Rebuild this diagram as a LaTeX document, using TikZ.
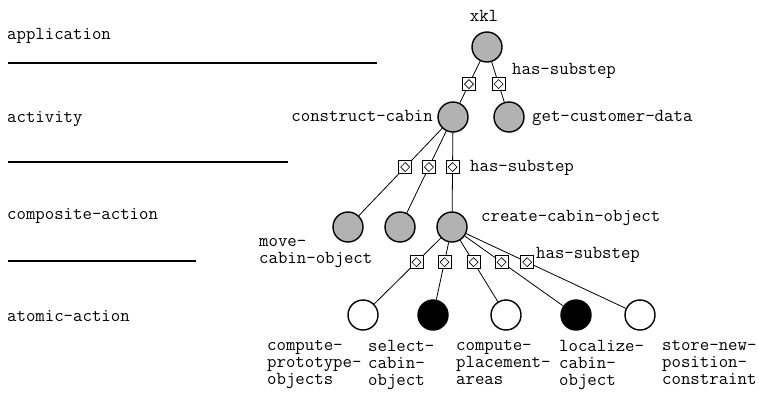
\documentclass[tikz,border=0pt]{standalone}
\usepackage{fontspec}
\usetikzlibrary{calc}

\tikzset{
  task/.style={circle,draw,line width=1.4pt,minimum size=30pt,inner sep=0pt},
  grey task/.style={task,fill=black!30},
  white task/.style={task,fill=white},
  black task/.style={task,fill=black},
  substep/.style={rectangle,draw,fill=white,line width=0.7pt,minimum size=13pt,inner sep=0pt,
    path picture={\draw[line width=0.6pt]
      ([yshift=-2pt]path picture bounding box.north) -- ([xshift=-2pt]path picture bounding box.east) --
      ([yshift=2pt]path picture bounding box.south) -- ([xshift=2pt]path picture bounding box.west) -- cycle;}},
  lbl/.style={font=\ttfamily\fontsize{18.3}{17}\selectfont,inner sep=0pt},
  level/.style={line width=1.5pt},
}

\begin{document}
\begin{tikzpicture}[x=1pt,y=-1pt]
\useasboundingbox (0,0) rectangle (759,392);

% level names and separators
\begin{scope}[every node/.style={lbl,anchor=base west}]
    \node (app) at (7,39) {application};
    \node (act) at (7,122) {activity};
    \node (comp) at (7,219) {composite-action};
    \node (atom) at (7,321) {atomic-action};
\end{scope}
\draw [level] (8,63) -- (377,63);
\draw [level] (8,162) -- (288,162);
\draw [level] (8,261) -- (196,261);

% the task tree
\node [grey task] (xkl) at (487,47) {};
\node [grey task] (cc) at (453,117) {};
\node [grey task] (gcd) at (509,117) {};
\node [grey task] (mco) at (348,227) {};
\node [grey task] (cmid) at (400,227) {};
\node [grey task] (cco) at (452,227) {};
\node [white task] (cpo) at (363,315) {};
\node [black task] (sco) at (433,315) {};
\node [white task] (cpa) at (506,315) {};
\node [black task] (lco) at (576,315) {};
\node [white task] (snp) at (640,315) {};

\begin{scope}[every edge/.style={draw=black,line width=0.8pt}]
    \path (xkl) edge (cc);
    \path (xkl) edge (gcd);
    \path (cc) edge (mco);
    \path (cc) edge (cmid);
    \path (cc) edge (cco);
    \path (cco) edge (cpo);
    \path (cco) edge (sco);
    \path (cco) edge (cpa);
    \path (cco) edge (lco);
    \path (cco) edge (snp);
\end{scope}

% has-substep markers on the edges
\begin{scope}[every node/.style={substep}]
    \node (s1) at ($(xkl)!.53!(cc)$) {};
    \node (s2) at ($(xkl)!.53!(gcd)$) {};
    \node (s3) at ($(cc)!.455!(mco)$) {};
    \node (s4) at ($(cc)!.455!(cmid)$) {};
    \node (s5) at ($(cc)!.455!(cco)$) {};
    \node (s6) at ($(cco)!.4!(cpo)$) {};
    \node (s7) at ($(cco)!.4!(sco)$) {};
    \node (s8) at ($(cco)!.4!(cpa)$) {};
    \node (s9) at ($(cco)!.4!(lco)$) {};
    \node (s10) at ($(cco)!.4!(snp)$) {};
\end{scope}

% task names
\begin{scope}[every node/.style={lbl}]
    \node [anchor=base] at (484,21) {xkl};
    \node [anchor=base west] at (512,74) {has-substep};
    \node [anchor=base east] at (433,121) {construct-cabin};
    \node [anchor=base west] at (532,121) {get-customer-data};
    \node [anchor=base west] at (470,171) {has-substep};
    \node [anchor=base west] at (481,221) {create-cabin-object};
    \node [anchor=north west,align=left] at (259,238) {move-\\cabin-object};
    \node [anchor=base west] at (536,258) {has-substep};
    \node [anchor=north west,align=left] at (267,340) {compute-\\prototype-\\objects};
    \node [anchor=north west,align=left] at (368,340) {select-\\cabin-\\object};
    \node [anchor=north west,align=left] at (456,340) {compute-\\placement-\\areas};
    \node [anchor=north west,align=left] at (559,340) {localize-\\cabin-\\object};
    \node [anchor=north west,align=left] at (662,340) {store-new-\\position-\\constraint};
\end{scope}
\end{tikzpicture}
\end{document}
